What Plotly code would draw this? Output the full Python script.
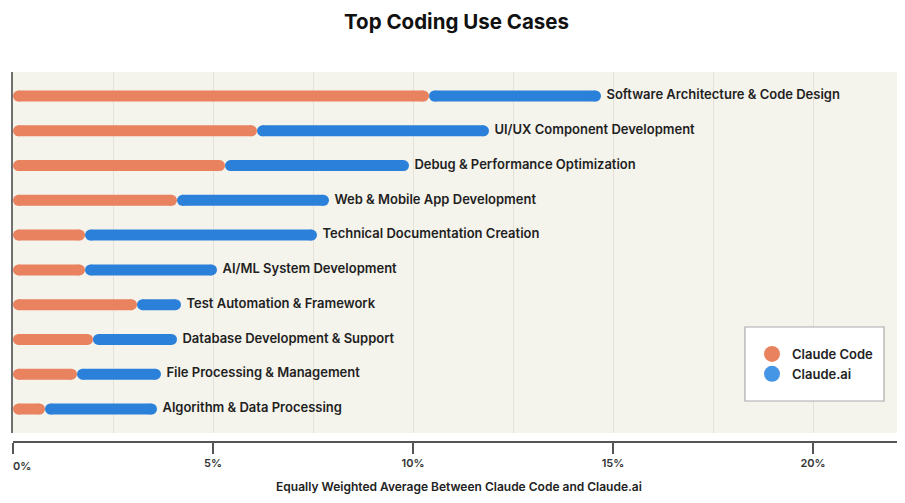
import plotly.graph_objects as go

# Data (percent)
use_cases = [
    "Software Architecture & Code Design",
    "UI/UX Component Development",
    "Debug & Performance Optimization",
    "Web & Mobile App Development",
    "Technical Documentation Creation",
    "AI/ML System Development",
    "Test Automation & Framework",
    "Database Development & Support",
    "File Processing & Management",
    "Algorithm & Data Processing",
]
claude_code = [10.4, 6.1, 5.3, 4.1, 1.8, 1.8, 3.1, 2.0, 1.6, 0.8]
claude_ai = [4.3, 5.8, 4.6, 3.8, 5.8, 3.3, 1.1, 2.1, 2.1, 2.8]
tick_values = [0, 5, 10, 15, 20]
tick_labels = ["0%", "5%", "10%", "15%", "20%"]

ORANGE = "#E9825E"
BLUE = "#2B80D9"
BG = "#F4F3EC"
FONT = "Inter"

# Layout geometry: the page has an 8px body margin, so figure px = page px - 8
# and the figure is kept small enough not to overflow the 905x503 window.
OFF = 8
W, H = 905 - OFF, 503 - OFF
margin = dict(l=13 - OFF, r=0, t=72 - OFF, b=H - (442 - OFF), autoexpand=False)
bar_px = 11
plot_w = W - margin["l"] - margin["r"]
plot_h = H - margin["t"] - margin["b"]
x_range = [0, plot_w / 40]
px_per_unit = plot_w / (x_range[1] - x_range[0])
cap = (bar_px / 2) / px_per_unit  # inset so round caps sit inside each segment


def pill_segments(starts, ends):
    xs, ys = [], []
    for cat, s, e in zip(use_cases, starts, ends):
        xs += [s + cap, e - cap, None]
        ys += [cat, cat, None]
    return xs, ys


def px_x(px):  # page px -> paper x
    return (px - OFF - margin["l"]) / plot_w


def px_y(py):  # page px -> paper y
    return (H - margin["b"] - (py - OFF)) / plot_h


totals = [c + a for c, a in zip(claude_code, claude_ai)]
zeros = [0] * len(use_cases)

fig = go.Figure()

ox, oy = pill_segments(zeros, claude_code)
fig.add_trace(go.Scatter(
    x=ox, y=oy, mode="lines+markers",
    line=dict(color=ORANGE, width=bar_px),
    marker=dict(color=ORANGE, size=bar_px, line=dict(width=0)),
    showlegend=False, hoverinfo="skip",
))

bx, by = pill_segments(claude_code, totals)
fig.add_trace(go.Scatter(
    x=bx, y=by, mode="lines+markers",
    line=dict(color=BLUE, width=bar_px),
    marker=dict(color=BLUE, size=bar_px, line=dict(width=0)),
    showlegend=False, hoverinfo="skip",
))

# Category labels at end of each bar
fig.add_trace(go.Scatter(
    x=totals, y=use_cases, mode="text",
    text=[" \u2009" + u for u in use_cases], textposition="middle right",
    textfont=dict(family=FONT, size=13, color="#1F1F1F", weight=600),
    showlegend=False, hoverinfo="skip",
))

# Legend entries
fig.add_trace(go.Scatter(x=[None], y=[None], mode="markers", name="Claude Code",
                         marker=dict(color=ORANGE, size=17)))
fig.add_trace(go.Scatter(x=[None], y=[None], mode="markers", name="Claude.ai",
                         marker=dict(color="#4696E6", size=17)))

# Legend frame
fig.add_shape(type="rect", xref="paper", yref="paper",
              x0=px_x(745), x1=px_x(884), y0=px_y(401), y1=px_y(327),
              fillcolor="white", line=dict(color="#AAAAAA", width=1.2), layer="above")

tick_font = dict(family=FONT, size=11, color="#333", weight=600)

# first tick label sits left-aligned on the axis start, as in the original
fig.add_annotation(x=tick_values[0], y=px_y(466), xref="x", yref="paper",
                   text=tick_labels[0], showarrow=False, xanchor="left",
                   yanchor="middle", xshift=-2, font=tick_font)

fig.update_layout(
    width=W, height=H,
    margin=margin,
    paper_bgcolor="white",
    plot_bgcolor=BG,
    title=dict(text="Top Coding Use Cases", x=0.5, xanchor="center",
               y=1 - (22 - OFF) / H, yanchor="middle", automargin=False,
               font=dict(family=FONT, size=20.5, color="#111111", weight=700)),
    xaxis=dict(
        range=x_range, anchor="free", position=0, automargin=False,
        tickmode="array", tickvals=tick_values,
        ticktext=[""] + tick_labels[1:],
        ticks="outside", ticklen=11, tickwidth=1.5, tickcolor="#555",
        showline=True, linecolor="#555", linewidth=1.5,
        showgrid=True, gridcolor="#E4E2D8", gridwidth=1,
        minor=dict(dtick=2.5, showgrid=True, gridcolor="#E4E2D8", gridwidth=1),
        zeroline=False,
        tickfont=tick_font,
        title=dict(text="Equally Weighted Average Between Claude Code and Claude.ai",
                   font=dict(family=FONT, size=12, color="#222", weight=600),
                   standoff=13),
    ),
    yaxis=dict(
        domain=[9 / plot_h, 1], automargin=False,
        type="category", categoryorder="array", categoryarray=use_cases,
        range=[len(use_cases) - 1 + 0.69, -0.69],
        showticklabels=False, ticks="",
        showline=True, linecolor="#707070", linewidth=2,
        showgrid=False, zeroline=False,
    ),
    legend=dict(
        x=px_x(752), y=px_y(339),
        xanchor="left", yanchor="top",
        bgcolor="rgba(0,0,0,0)", borderwidth=0,
        font=dict(family=FONT, size=13, color="#222", weight=600),
        itemwidth=30, tracegroupgap=0,
    ),
)

fig.write_html("out.html")
